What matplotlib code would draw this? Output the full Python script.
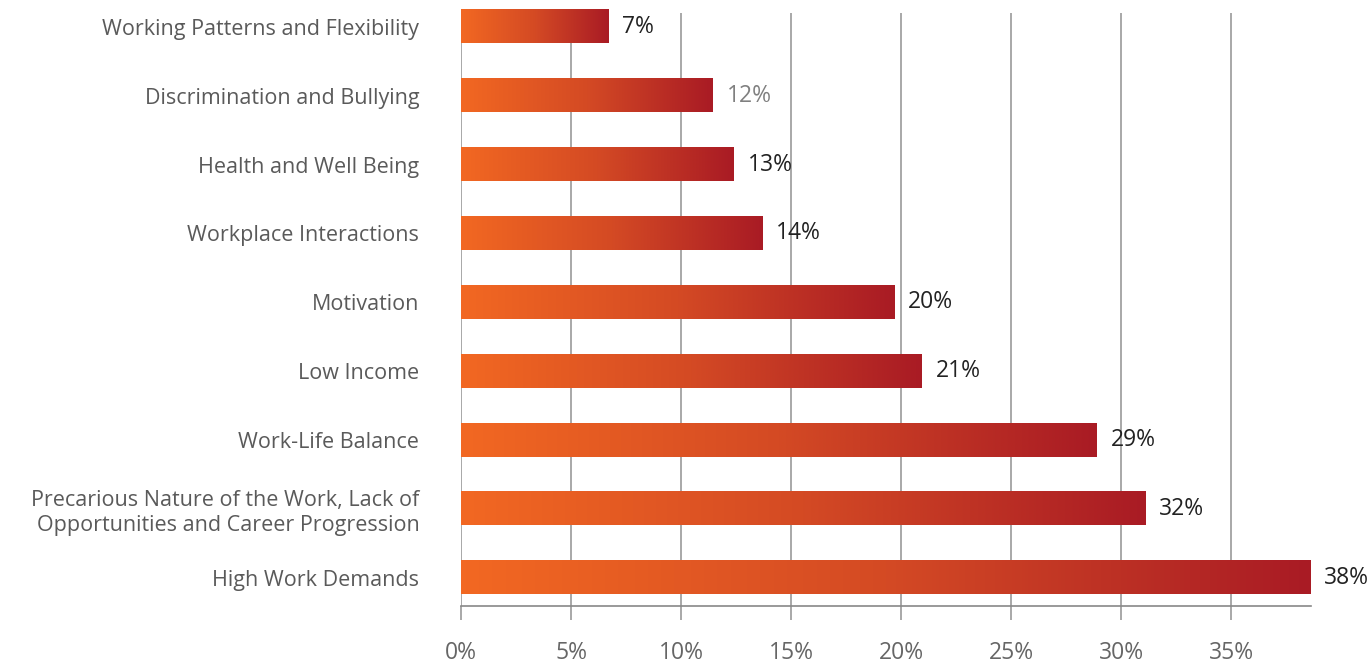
import numpy as np
import matplotlib
matplotlib.use("Agg")
import matplotlib.pyplot as plt
from matplotlib.colors import LinearSegmentedColormap

# Data (top to bottom)
categories = [
    "Working Patterns and Flexibility",
    "Discrimination and Bullying",
    "Health and Well Being",
    "Workplace Interactions",
    "Motivation",
    "Low Income",
    "Work-Life Balance",
    "Precarious Nature of the Work, Lack of\nOpportunities and Career Progression",
    "High Work Demands",
]
values = [6.7, 11.45, 12.4, 13.7, 19.7, 20.95, 28.9, 31.1, 38.6]
labels = ["7%", "12%", "13%", "14%", "20%", "21%", "29%", "32%", "38%"]
label_colors = ["#222222", "#808080", "#222222", "#222222", "#222222",
                "#222222", "#222222", "#222222", "#222222"]
xticks = [0, 5, 10, 15, 20, 25, 30, 35]
xticklabels = ["0%", "5%", "10%", "15%", "20%", "25%", "30%", "35%"]

plt.rcParams['font.family'] = ['Open Sans', 'DejaVu Sans']

fig = plt.figure(figsize=(13.7, 6.64), dpi=100)
ax = fig.add_axes([0.3365, 0.0873, 0.6205, 0.8931])

cmap = LinearSegmentedColormap.from_list("bar", ["#F26822", "#D44A24", "#A91B24"])
grad = np.linspace(0, 1, 256).reshape(1, -1)
bar_h = 0.48

y = np.arange(len(categories))
for yi, v, lab, lc in zip(y, values, labels, label_colors):
    ax.imshow(grad, extent=[0, v, yi + bar_h / 2, yi - bar_h / 2], aspect='auto',
              cmap=cmap, zorder=3, clip_on=False, interpolation='bilinear')
    ax.annotate(lab, xy=(v, yi), xytext=(10, 0), textcoords='offset points',
                ha='left', va='center', fontsize=16.5, color=lc, zorder=4)

ax.set_xlim(0, 38.64)
ax.set_ylim(8.41, -0.2)
ax.set_yticks(y)
ax.set_yticklabels(categories, fontsize=15.5, color="#5a5a5a", ha='right',
                   multialignment='right')
ax.tick_params(axis='y', length=0, pad=30)
ax.set_xticks(xticks)
ax.set_xticklabels(xticklabels, fontsize=16.5, color="#666666")
ax.tick_params(axis='x', length=10, width=1.2, color="#999999", pad=15)

ax.grid(axis='x', color="#999999", linewidth=1.2, zorder=0)
ax.set_axisbelow(True)
for s in ['top', 'right', 'left']:
    ax.spines[s].set_visible(False)
ax.spines['bottom'].set_color("#888888")
ax.spines['bottom'].set_linewidth(1.2)

fig.savefig("out.png", dpi=100)
